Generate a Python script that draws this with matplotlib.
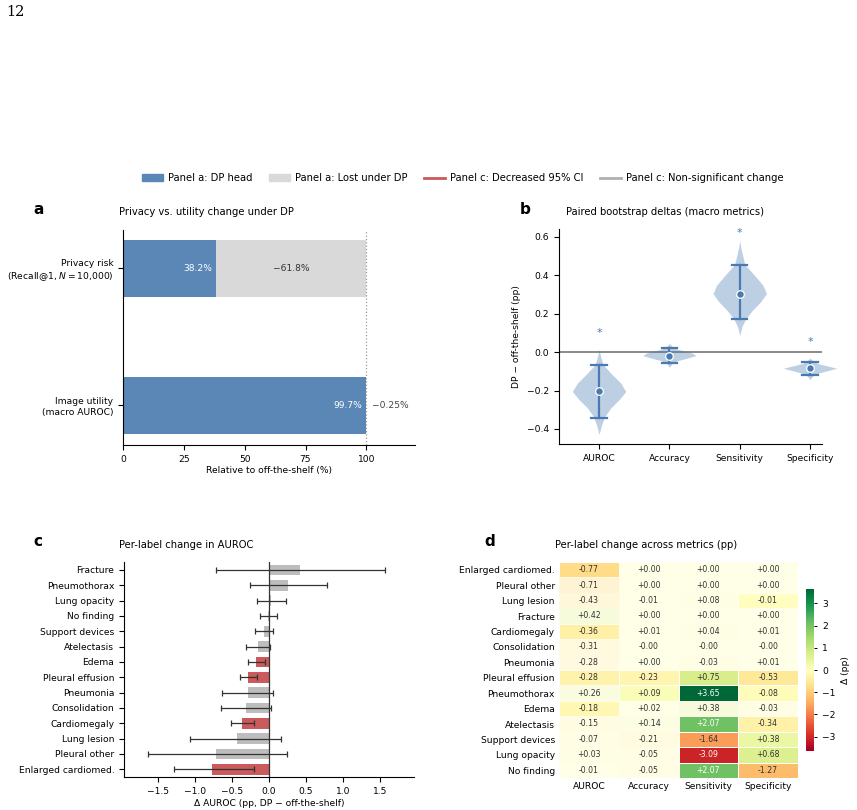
import matplotlib
matplotlib.use("Agg")
import matplotlib.pyplot as plt
import numpy as np
from matplotlib.patches import Patch
from matplotlib.lines import Line2D
from matplotlib.colors import Normalize
from matplotlib.cm import ScalarMappable

W, H = 857, 810

# ---- panel a: privacy vs utility ----
a_labels = ["Image utility\n(macro AUROC)", "Privacy risk\n(Recall@1, $N = 10{,}000$)"]
a_retained = [99.7, 38.2]
a_delta = [-0.25, -61.8]

# ---- panel b: paired bootstrap deltas ----
b_metrics = ["AUROC", "Accuracy", "Sensitivity", "Specificity"]
b_median = [-0.203, -0.019, 0.304, -0.084]
b_ci_lo = [-0.345, -0.055, 0.172, -0.119]
b_ci_hi = [-0.065, 0.019, 0.455, -0.050]
b_star = [0.10, None, 0.62, 0.05]
# violin outlines: y values and relative half widths
auroc_y = [0.014, -0.024, -0.065, -0.11, -0.161, -0.205, -0.247, -0.29, -0.333, -0.376, -0.428]
auroc_w = [0, 0.06, 0.15, 0.44, 0.81, 1.0, 0.75, 0.44, 0.22, 0.1, 0]
acc_y = [0.045, 0.03, 0.015, 0.005, -0.005, -0.018, -0.03, -0.045, -0.06, -0.079]
acc_w = [0, 0.1, 0.3, 0.6, 0.85, 1.0, 0.7, 0.3, 0.1, 0]
sens_y = [0.579, 0.536, 0.455, 0.398, 0.347, 0.304, 0.261, 0.218, 0.172, 0.132, 0.086]
sens_w = [0, 0.05, 0.19, 0.56, 0.87, 1.0, 0.78, 0.48, 0.22, 0.08, 0]
spec_y = [-0.031, -0.045, -0.06, -0.072, -0.084, -0.095, -0.11, -0.125, -0.143]
spec_w = [0, 0.1, 0.3, 0.65, 1.0, 0.7, 0.3, 0.1, 0]

# ---- panel c: per-label AUROC change (top to bottom) ----
c_labels = ["Fracture", "Pneumothorax", "Lung opacity", "No finding", "Support devices",
            "Atelectasis", "Edema", "Pleural effusion", "Pneumonia", "Consolidation",
            "Cardiomegaly", "Lung lesion", "Pleural other", "Enlarged cardiomed."]
c_delta = [0.42, 0.26, 0.03, -0.01, -0.07, -0.15, -0.18, -0.28, -0.28, -0.31, -0.36, -0.43, -0.71, -0.77]
c_lo = [-0.71, -0.257, -0.158, -0.117, -0.19, -0.306, -0.284, -0.387, -0.63, -0.653, -0.514, -1.072, -1.635, -1.284]
c_hi = [1.57, 0.78, 0.225, 0.104, 0.059, 0.014, -0.054, -0.167, 0.059, 0.027, -0.198, 0.158, 0.243, -0.198]

# ---- panel d: per-label change across metrics ----
d_labels = ["Enlarged cardiomed.", "Pleural other", "Lung lesion", "Fracture", "Cardiomegaly",
            "Consolidation", "Pneumonia", "Pleural effusion", "Pneumothorax", "Edema",
            "Atelectasis", "Support devices", "Lung opacity", "No finding"]
d_auroc = [-0.77, -0.71, -0.43, 0.42, -0.36, -0.31, -0.28, -0.28, 0.26, -0.18, -0.15, -0.07, 0.03, -0.01]
d_acc = [0.00, 0.00, -0.01, 0.00, 0.01, -0.001, 0.00, -0.23, 0.09, 0.02, 0.14, -0.21, -0.05, -0.05]
d_sens = [0.00, 0.00, 0.08, 0.00, 0.04, -0.001, -0.03, 0.75, 3.65, 0.38, 2.07, -1.64, -3.09, 2.07]
d_spec = [0.00, 0.00, -0.01, 0.00, 0.01, -0.001, 0.01, -0.53, -0.08, -0.03, -0.34, 0.38, 0.68, -1.27]
d_sig_auroc = [1, 0, 0, 0, 1, 0, 0, 1, 0, 1, 0, 0, 0, 0]
d_sig_acc = [0, 0, 0, 0, 0, 0, 0, 1, 1, 0, 0, 0, 0, 0]
d_sig_sens = [0, 0, 0, 0, 0, 0, 0, 1, 1, 0, 1, 1, 1, 1]
d_sig_spec = [0, 0, 1, 0, 0, 0, 0, 1, 1, 0, 1, 1, 1, 1]

BLUE = "#5a87b5"
LGREY = "#d9d9d9"
RED = "#cb5a5c"
GREY = "#bdbdbd"
VBLUE = "#4a7ab0"
FS = 6.6
TFS = 7.2

plt.rcParams.update({
    "font.size": FS,
    "axes.linewidth": 0.8,
    "xtick.labelsize": FS,
    "ytick.labelsize": FS,
    "xtick.major.width": 0.8,
    "ytick.major.width": 0.8,
    "xtick.major.size": 3.5,
    "ytick.major.size": 3.5,
})


def rect(x0, y0, x1, y1):
    return [x0 / W, 1 - y1 / H, (x1 - x0) / W, (y1 - y0) / H]


def ftext(x, y, s, **kw):
    fig.text(x / W, 1 - y / H, s, **kw)


fig = plt.figure(figsize=(W / 100, H / 100), dpi=100)

ftext(6, 12, "12", family="DejaVu Serif", fontsize=10.5, va="center", ha="left")

# ---------- a ----------
ax = fig.add_axes(rect(123, 230, 415, 445))
ypos = np.arange(len(a_labels))
lost = [100 - r for r in a_retained]
ax.barh(ypos, a_retained, height=0.42, color=BLUE)
ax.barh(ypos, lost, left=a_retained, height=0.42, color=LGREY)
ax.axvline(100, color="#999999", lw=0.9, ls=":")
ax.set_yticks(ypos)
ax.set_yticklabels(a_labels)
ax.set_xticks([0, 25, 50, 75, 100])
ax.set_xlim(0, 120)
ax.set_ylim(-0.29, 1.28)
ax.set_xlabel("Relative to off-the-shelf (%)", fontsize=FS, labelpad=2)
for sp in ["top", "right"]:
    ax.spines[sp].set_visible(False)
for i, (r, d) in enumerate(zip(a_retained, a_delta)):
    ax.text(r - 1.6, i, f"{r:.1f}%", color="white", ha="right", va="center", fontsize=FS)
    lbl = f"\u2212{abs(d):.2f}%" if abs(d) < 1 else f"\u2212{abs(d):.1f}%"
    if 100 - r > 20:
        ax.text((r + 100) / 2, i, lbl, color="#333333", ha="center", va="center", fontsize=FS)
    else:
        ax.text(102.3, i, lbl, color="#444444", ha="left", va="center", fontsize=FS)
ftext(33, 209, "a", fontsize=11, fontweight="bold", va="center")
ftext(206, 212, "Privacy vs. utility change under DP", fontsize=TFS, ha="center", va="center")

# ---------- b ----------
ax = fig.add_axes(rect(559, 229, 822, 444))
profiles = [(auroc_y, auroc_w), (acc_y, acc_w), (sens_y, sens_w), (spec_y, spec_w)]
half = 0.38
ax.axhline(0, color="#808080", lw=1.3, zorder=1)
for i, (py, pw) in enumerate(profiles):
    py = np.array(py)
    pw = np.array(pw) * half
    ax.fill_betweenx(py, i - pw, i + pw, color=VBLUE, alpha=0.36, lw=0, zorder=2, clip_on=False)
    ax.plot([i, i], [b_ci_lo[i], b_ci_hi[i]], color=VBLUE, lw=1.6, zorder=3)
    for yy in (b_ci_lo[i], b_ci_hi[i]):
        ax.plot([i - 0.11, i + 0.11], [yy, yy], color=VBLUE, lw=1.6, zorder=3)
    ax.plot(i, b_median[i], "o", ms=5.5, color=VBLUE, mec="white", mew=0.9, zorder=4)
    if b_star[i] is not None:
        ax.text(i, b_star[i], "*", color=VBLUE, ha="center", va="center", fontsize=8)
ax.set_xticks(range(len(b_metrics)))
ax.set_xticklabels(b_metrics)
ax.set_xlim(-0.57, 3.17)
ax.set_ylim(-0.478, 0.64)
ax.set_yticks([-0.4, -0.2, 0.0, 0.2, 0.4, 0.6])
ax.set_ylabel("DP \u2212 off-the-shelf (pp)", fontsize=FS)
for sp in ["top", "right"]:
    ax.spines[sp].set_visible(False)
ftext(520, 209, "b", fontsize=11, fontweight="bold", va="center")
ftext(665, 212, "Paired bootstrap deltas (macro metrics)", fontsize=TFS, ha="center", va="center")

# ---------- c ----------
ax = fig.add_axes(rect(124, 562, 414, 777))
yc = np.arange(len(c_labels))
cols = [RED if h < 0 else GREY for h in c_hi]
ax.barh(yc, c_delta, height=0.68, color=cols)
err = [np.array(c_delta) - np.array(c_lo), np.array(c_hi) - np.array(c_delta)]
ax.errorbar(c_delta, yc, xerr=err, fmt="none", ecolor="#333333", elinewidth=0.9,
            capsize=2.2, capthick=0.9)
ax.axvline(0, color="#333333", lw=0.9)
ax.set_yticks(yc)
ax.set_yticklabels(c_labels)
ax.set_ylim(len(c_labels) - 0.5, -0.52)
ax.set_xlim(-1.96, 1.96)
ax.set_xticks([-1.5, -1.0, -0.5, 0.0, 0.5, 1.0, 1.5])
ax.set_xlabel("\u0394 AUROC (pp, DP \u2212 off-the-shelf)", fontsize=FS, labelpad=2)
for sp in ["top", "right"]:
    ax.spines[sp].set_visible(False)
ftext(33, 542, "c", fontsize=11, fontweight="bold", va="center")
ftext(186, 545, "Per-label change in AUROC", fontsize=TFS, ha="center", va="center")

# ---------- d ----------
ax = fig.add_axes(rect(559, 562, 798, 778))
vals = np.array([d_auroc, d_acc, d_sens, d_spec]).T
sig = np.array([d_sig_auroc, d_sig_acc, d_sig_sens, d_sig_spec]).T.astype(bool)
cmap = plt.get_cmap("RdYlGn")
norm = Normalize(vmin=-3.65, vmax=3.65)
xe = np.arange(vals.shape[1] + 1)
ye = np.arange(vals.shape[0] + 1)
ax.pcolormesh(xe, ye, np.ma.masked_where(~sig, vals), cmap=cmap, norm=norm,
              edgecolors="white", linewidth=0.5)
ax.pcolormesh(xe, ye, np.ma.masked_where(sig, vals), cmap=cmap, norm=norm,
              edgecolors="white", linewidth=0.5, alpha=0.38)
for i in range(vals.shape[0]):
    for j in range(vals.shape[1]):
        v = vals[i, j]
        s = f"{v:+.2f}"
        c = "white" if abs(v) > 2 else "#333333"
        ax.text(j + 0.5, i + 0.5, s, ha="center", va="center", fontsize=5.6, color=c)
ax.set_xlim(0, vals.shape[1])
ax.set_ylim(vals.shape[0], 0)
ax.set_xticks(np.arange(vals.shape[1]) + 0.5)
ax.set_xticklabels(b_metrics)
ax.set_yticks(np.arange(vals.shape[0]) + 0.5)
ax.set_yticklabels(d_labels)
ax.tick_params(length=0, pad=3)
for sp in ax.spines.values():
    sp.set_visible(False)
cax = fig.add_axes(rect(806, 589, 814, 751))
cb = fig.colorbar(ScalarMappable(norm=norm, cmap=cmap), cax=cax)
cb.outline.set_visible(False)
cb.set_ticks([-3, -2, -1, 0, 1, 2, 3])
cb.ax.tick_params(labelsize=FS, length=2.5, width=0.7)
cb.set_label("\u0394 (pp)", fontsize=FS)
ftext(484, 542, "d", fontsize=11, fontweight="bold", va="center")
ftext(646, 545, "Per-label change across metrics (pp)", fontsize=TFS, ha="center", va="center")

# ---------- legend ----------
handles = [Patch(color=BLUE, label="Panel a: DP head"),
           Patch(color=LGREY, label="Panel a: Lost under DP"),
           Line2D([], [], color=RED, lw=2, label="Panel c: Decreased 95% CI"),
           Line2D([], [], color="#b0b0b0", lw=2, label="Panel c: Non-significant change")]
fig.legend(handles=handles, loc="center", bbox_to_anchor=(463 / W, 1 - 178 / H), ncol=4,
           frameon=False, fontsize=TFS, handlelength=2.1, handletextpad=0.55,
           columnspacing=1.6)

fig.savefig("out.png", dpi=100)
